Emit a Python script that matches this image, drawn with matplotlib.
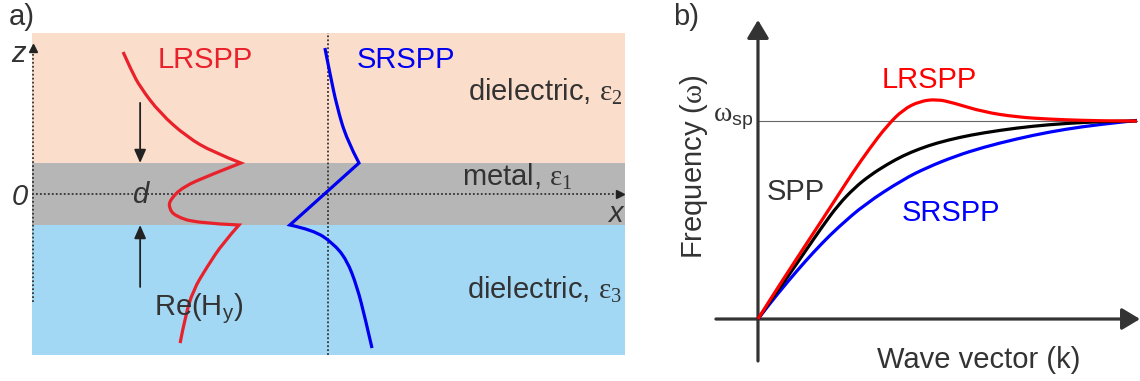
import matplotlib
matplotlib.use("Agg")
import matplotlib.pyplot as plt
from matplotlib.path import Path
from matplotlib.patches import PathPatch

plt.rcParams['font.family'] = ['Liberation Sans', 'DejaVu Sans']
plt.rcParams['mathtext.fontset'] = 'custom'
plt.rcParams['mathtext.rm'] = 'Liberation Serif'
plt.rcParams['mathtext.sf'] = 'Liberation Sans'
plt.rcParams['mathtext.it'] = 'Liberation Sans:italic'

# ---------------- data: panel a (field profiles, z in units of d/2) -------------
metal_half = 1.0
lr_z = [4.58, 4.00, 3.45, 2.61, 1.84, 1.35, 1.00,
        0.61, 0.23, -0.19, -0.45, -0.71, -0.94, -1.00,
        -1.58, -2.35, -3.10, -3.97, -4.81]
lr_h = [-6.61, -6.35, -6.06, -5.42, -4.55, -3.71, -2.81,
        -3.81, -4.68, -5.10, -5.13, -4.94, -4.23, -2.87,
        -3.39, -3.90, -4.35, -4.61, -4.77]
lr_corners = [6, 13]
sr_z = [4.71, 3.90, 2.81, 1.74, 1.00,
        -1.00, -1.16, -1.58, -2.13, -3.00, -3.97, -4.97]
sr_h = [-0.10, 0.06, 0.29, 0.61, 1.00,
        -1.23, -0.48, 0.16, 0.61, 0.94, 1.19, 1.42]
sr_corners = [4, 5]

# ---------------- data: panel b (dispersion, k and w normalised) ----------------
k_lr = [0, 0.030, 0.079, 0.124, 0.169, 0.208, 0.251, 0.296, 0.340, 0.383, 0.427,
        0.472, 0.515, 0.594, 0.683, 0.770, 0.858, 0.947, 1.0]
w_lr = [0, 0.092, 0.237, 0.369, 0.500, 0.615, 0.742, 0.865, 0.975, 1.058, 1.100,
        1.110, 1.092, 1.046, 1.020, 1.009, 1.003, 1.000, 1.0]
k_spp = [0, 0.030, 0.079, 0.124, 0.169, 0.211, 0.256, 0.296, 0.340, 0.383, 0.427,
         0.472, 0.533, 0.594, 0.683, 0.770, 0.858, 0.947, 1.0]
w_spp = [0, 0.085, 0.215, 0.340, 0.465, 0.575, 0.665, 0.726, 0.780, 0.825, 0.860,
         0.889, 0.918, 0.940, 0.965, 0.982, 0.993, 0.999, 1.0]
k_sr = [0, 0.030, 0.079, 0.124, 0.169, 0.211, 0.282, 0.383, 0.446, 0.520,
        0.594, 0.683, 0.770, 0.858, 0.947, 1.0]
w_sr = [0, 0.075, 0.190, 0.290, 0.383, 0.462, 0.580, 0.705, 0.765, 0.822,
        0.867, 0.910, 0.945, 0.972, 0.992, 1.003]
w_sp = 1.0

W, H = 1140, 381
fig = plt.figure(figsize=(W / 100, H / 100), dpi=100)
TXT = '#333333'
FS = 21


def ftext(x, y, s, **kw):
    kw.setdefault('fontsize', FS)
    kw.setdefault('color', TXT)
    kw.setdefault('va', 'baseline')
    fig.text(x / W, 1 - y / H, s, **kw)


def smooth_curve(ax, xs, ys, corners=(), **kw):
    """Draw the read points as a smooth quadratic-Bezier path,
    keeping sharp corners at the given indices."""
    pts = list(zip(xs, ys))
    cuts = [0] + [c for c in corners] + [len(pts) - 1]
    verts, codes = [pts[0]], [Path.MOVETO]
    for a, b in zip(cuts[:-1], cuts[1:]):
        seg = pts[a:b + 1]
        if len(seg) <= 2:
            verts.append(seg[-1]); codes.append(Path.LINETO)
            continue
        for i in range(1, len(seg) - 1):
            p, q = seg[i], seg[i + 1]
            end = q if i == len(seg) - 2 else ((p[0] + q[0]) / 2, (p[1] + q[1]) / 2)
            verts += [p, end]
            codes += [Path.CURVE3, Path.CURVE3]
    patch = PathPatch(Path(verts, codes), fill=False, capstyle='butt',
                      joinstyle='miter', **kw)
    ax.add_patch(patch)


# ================= panel a =================
axa = fig.add_axes([32 / W, 1 - 355 / H, 593 / W, 322 / H])
xa0, xa1 = -9.548, 9.581
za0, za1 = -5.194, 5.194
axa.set_xlim(xa0, xa1)
axa.set_ylim(za0, za1)
axa.axis('off')
axa.axhspan(metal_half, za1, color='#FADDCB', lw=0, zorder=0)
axa.axhspan(-metal_half, metal_half, color='#B6B6B6', lw=0, zorder=0)
axa.axhspan(za0, -metal_half, color='#A3D8F5', lw=0, zorder=0)

dot = dict(color='#333333', lw=1.3, ls=(0, (1, 1.2)), zorder=2)
axa.plot([xa0, xa1 - 0.2], [0, 0], **dot)
axa.plot([0, 0], [za0, za1], **dot)
zx = -9.516
axa.plot([zx, zx], [-3.48, 4.7], clip_on=False, **dot)
axa.plot([zx], [4.72], marker='^', ms=5.5, color='#222222', clip_on=False, zorder=3)
axa.plot([xa1 - 0.17], [0], marker='>', ms=6, color='#222222', clip_on=False, zorder=3)

arr = dict(arrowstyle='-|>,head_length=0.5,head_width=0.22', color='#222222', lw=1.3,
           shrinkA=0, shrinkB=0, mutation_scale=16)
axa.annotate('', xy=(-6.06, metal_half), xytext=(-6.06, 2.94), arrowprops=arr)
axa.annotate('', xy=(-6.06, -metal_half), xytext=(-6.06, -3.0), arrowprops=arr)

smooth_curve(axa, lr_h, lr_z, lr_corners, edgecolor='#E8212B', lw=2.3, zorder=5)
smooth_curve(axa, sr_h, sr_z, sr_corners, edgecolor='#0000F0', lw=2.3, zorder=5)

ftext(9, 25, 'a)')
ftext(11, 62, 'z', style='italic')
ftext(12, 205, '0', style='italic')
ftext(132, 203, 'd', style='italic')
ftext(608, 222, 'x', style='italic')
ftext(158, 68, 'LRSPP', color='#E8212B')
ftext(357, 68, 'SRSPP', color='#0000F0')
ftext(623, 100, r'dielectric, $\mathrm{ε}_{2}$', ha='right')
ftext(462, 185, r'metal, $\mathrm{ε}_{1}$')
ftext(622, 298, r'dielectric, $\mathrm{ε}_{3}$', ha='right')
ftext(154, 315, r'Re(H$_{\mathsf{y}}$)')

# ================= panel b =================
axb = fig.add_axes([700 / W, 0, 440 / W, 1])
axb.set_xlim(-0.153, 1.008)
axb.set_ylim(-0.313, 1.611)
axb.axis('off')
ax_arr = dict(arrowstyle='-|>,head_length=0.55,head_width=0.33', color='#333333', lw=2.3,
              shrinkA=0, shrinkB=0, mutation_scale=20)
axb.annotate('', xy=(0, 1.510), xytext=(0, -0.212), arrowprops=ax_arr, annotation_clip=False)
axb.annotate('', xy=(1.008, 0), xytext=(-0.111, 0), arrowprops=ax_arr, annotation_clip=False)
axb.plot([0, 1.0], [w_sp, w_sp], color='#666666', lw=0.8, zorder=2)

smooth_curve(axb, k_sr, w_sr, edgecolor='#0000FF', lw=2.3, zorder=4)
smooth_curve(axb, k_spp, w_spp, edgecolor='black', lw=2.3, zorder=5)
smooth_curve(axb, k_lr, w_lr, edgecolor='#FF0000', lw=2.3, zorder=6)

ftext(673, 25, 'b)')
ftext(882, 88, 'LRSPP', color='#FF0000')
ftext(767, 200, 'SPP')
ftext(902, 221, 'SRSPP', color='#0000FF')
ftext(877, 368, 'Wave vector (k)')
ftext(702, 167, r'Frequency ($\mathrm{ω}$)', rotation=90, rotation_mode='anchor', ha='center')
ftext(713, 122, r'$\mathrm{ω}_{\mathsf{sp}}$', fontsize=20)

fig.savefig('out.png', dpi=100)
